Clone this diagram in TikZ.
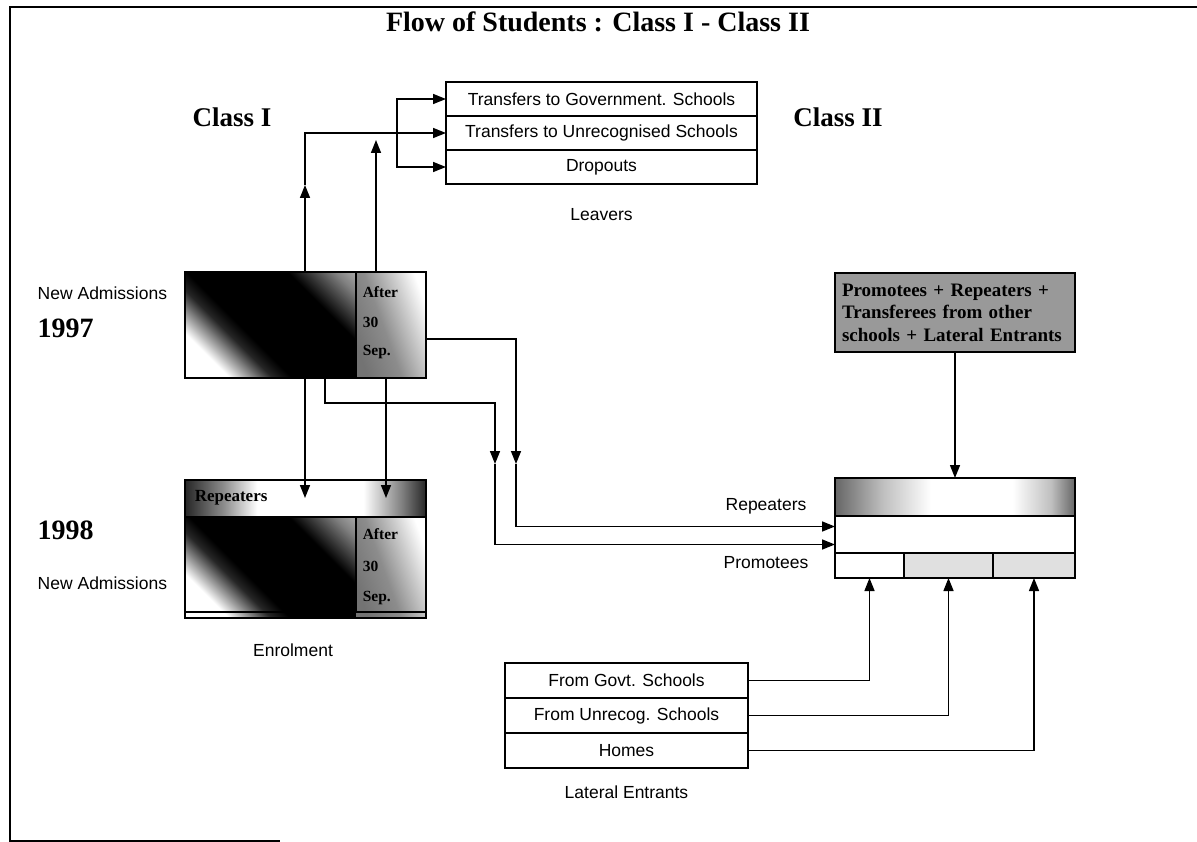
\documentclass[tikz,border=0pt]{standalone}
\usepackage{fontspec}
\setmainfont{Liberation Serif}
\newfontfamily\labfont{Liberation Sans}
\usetikzlibrary{arrows.meta}
\pgfdeclarehorizontalshading{darkband}{100bp}{color(0bp)=(white); color(26bp)=(white); color(37bp)=(black!85); color(42bp)=(black); color(68bp)=(black); color(80bp)=(black!50); color(92bp)=(black!15); color(100bp)=(white)}
\pgfdeclarehorizontalshading{greyband}{100bp}{color(0bp)=(black!55); color(25bp)=(black!55); color(45bp)=(black!45); color(62bp)=(black!20); color(75bp)=(white); color(100bp)=(white)}
\pgfdeclarehorizontalshading{stripdark}{100bp}{color(0bp)=(black); color(25bp)=(black!85); color(33bp)=(black!45); color(40bp)=(white); color(62bp)=(white); color(70bp)=(black!50); color(75bp)=(black!85); color(100bp)=(black)}
\pgfdeclarehorizontalshading{stripgrey}{100bp}{color(0bp)=(black!60); color(25bp)=(black!60); color(35bp)=(black!25); color(45bp)=(white); color(62bp)=(white); color(70bp)=(black!25); color(75bp)=(black!60); color(100bp)=(black!60)}
\begin{document}
\begin{tikzpicture}[x=1pt,y=-1pt,line width=1.5pt,
 lab/.style={font=\labfont\fontsize{17.5}{20}\selectfont,inner sep=0pt},
 hd/.style={font=\bfseries\fontsize{27}{30}\selectfont,inner sep=0pt},
 yr/.style={font=\bfseries\fontsize{28}{30}\selectfont,inner sep=0pt,anchor=west},
 col/.style={font=\bfseries\fontsize{15.5}{18}\selectfont,inner sep=0pt,anchor=west},
 box/.style={draw,inner sep=0pt,outer sep=0pt},
 flow/.style={-{Triangle[length=13pt,width=10pt]}},
 frame/.style={line width=1.6pt}]
\useasboundingbox (0,0) rectangle (1197,842);
% frame
\draw[frame] (10,842) -- (10,7) -- (1197,7);
\draw[frame] (10,841) -- (280,841);
% headings
\node[hd,font=\bfseries\fontsize{28}{32}\selectfont] (title) at (598,22) {Flow of Students : Class I - Class II};
\node[hd] (cls1) at (232,117) {Class I};
\node[hd] (cls2) at (838,117) {Class II};
% leavers
\node[box,lab,minimum width=311pt,minimum height=34pt] (lv1) at (601.5,99) {Transfers to Government. Schools};
\node[box,lab,minimum width=311pt,minimum height=34pt] (lv2) at (601.5,133) {Transfers to Unrecognised Schools};
\node[box,lab,minimum width=311pt,minimum height=34pt] (lv3) at (601.5,167) {Dropouts};
\node[lab] (leav) at (601.5,215) {Leavers};
% 1997
\shade[shading=darkband,shading angle=45] (185,272) rectangle (356,378);
\shade[shading=greyband,shading angle=20] (356,272) rectangle (426,378);
\node[box,minimum width=241pt,minimum height=106pt] (b97) at (305.5,325) {};
\draw (356,272) -- (356,378);
\node[col] (af1) at (362,292) {After};
\node[col] (af2) at (362,322) {30};
\node[col] (af3) at (362,352) {Sep.};
\node[lab,anchor=west] (na1) at (37,293) {New Admissions};
\node[yr] (y97) at (37,328) {1997};
% 1998
\shade[shading=stripdark] (185,480) rectangle (426,517);
\shade[shading=darkband,shading angle=45] (185,517) rectangle (356,618);
\shade[shading=greyband,shading angle=20] (356,517) rectangle (426,618);
\node[box,minimum width=241pt,minimum height=37pt] (b98s) at (305.5,498.5) {};
\node[box,minimum width=241pt,minimum height=101pt] (b98) at (305.5,567.5) {};
\draw (356,517) -- (356,612);
\draw (185,612) -- (426,612);
\node[font=\bfseries\fontsize{17}{20}\selectfont,inner sep=0pt,anchor=west] (rp1) at (194,498) {Repeaters};
\node[col] (bf1) at (362,534) {After};
\node[col] (bf2) at (362,566) {30};
\node[col] (bf3) at (362,598) {Sep.};
\node[yr] (y98) at (37,530) {1998};
\node[lab,anchor=west] (na2) at (37,583) {New Admissions};
\node[lab] (enr) at (293,650) {Enrolment};
% class II
\node[box,fill=black!40,minimum width=240pt,minimum height=79pt,text width=226pt,align=left,font=\bfseries\fontsize{19}{22.5}\selectfont] (gb) at (955,312.5) {Promotees + Repeaters +\\Transferees from other\\schools + Lateral Entrants};
\shade[shading=stripgrey] (835,478) rectangle (1075,516);
\node[box,minimum width=240pt,minimum height=38pt] (k2s) at (955,497) {};
\node[box,minimum width=240pt,minimum height=37pt] (k2m) at (955,534.5) {};
\node[box,minimum width=69pt,minimum height=25pt] (k2a) at (869.5,565.5) {};
\node[box,fill=black!12,minimum width=89pt,minimum height=25pt] (k2b) at (948.5,565.5) {};
\node[box,fill=black!12,minimum width=82pt,minimum height=25pt] (k2c) at (1034,565.5) {};
\node[lab] (rep) at (766,506) {Repeaters};
\node[lab] (pro) at (766,563) {Promotees};
% lateral entrants
\node[box,lab,minimum width=243pt,minimum height=35pt] (lt1) at (626.5,680.5) {From Govt. Schools};
\node[box,lab,minimum width=243pt,minimum height=35pt] (lt2) at (626.5,715.5) {From Unrecog. Schools};
\node[box,lab,minimum width=243pt,minimum height=35pt] (lt3) at (626.5,750.5) {Homes};
\node[lab] (lat) at (626.5,792) {Lateral Entrants};
% connectors
\coordinate (u1) at (305,185);
\coordinate (u2) at (376,140);
\coordinate (br) at (397,133);
\draw[flow] (b97.north -| u1) -- (u1);
\draw[flow] (u1) |- (lv2.west);
\draw[flow] (b97.north -| u2) -- (u2);
\draw[flow] (br) |- (lv1.west);
\draw[flow] (br) |- (lv3.west);
\coordinate (d1) at (305,498);
\coordinate (d2) at (386,498);
\draw[flow] (b97.south -| d1) -- (d1);
\draw[flow] (b97.south -| d2) -- (d2);
\coordinate (pk) at (325,403);
\coordinate (p1) at (495,464);
\draw[flow] (b97.south -| pk) -- (pk) -| (p1);
\draw[flow] (p1) |- ([yshift=-10pt]k2m.west);
\coordinate (r1) at (516,464);
\draw[flow] ([yshift=-14pt]b97.east) -| (r1);
\draw[flow] (r1) |- ([yshift=8pt]k2m.west);
\draw[flow] (gb.south) -- (k2s.north);
\draw[flow] (lt1.east) -| (k2a.south);
\draw[flow] (lt2.east) -| (k2b.south);
\draw[flow] (lt3.east) -| (k2c.south);
\end{tikzpicture}
\end{document}
